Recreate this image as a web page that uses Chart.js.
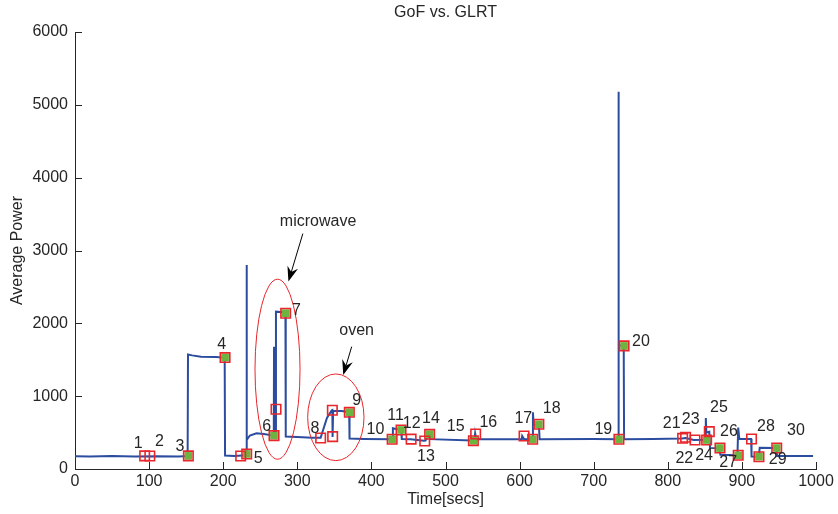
<!DOCTYPE html>
<html lang="en">
<head>
<meta charset="UTF-8">
<title>GoF vs. GLRT</title>
<script src="https://cdn.jsdelivr.net/npm/chart.js"></script>
<style>
    html, body {
        margin: 0;
        padding: 0;
        background: #fff;
    }
    #wrap {
        width: 838px;
        height: 514px;
    }
</style>
</head>
<body>
<div id="wrap"><canvas id="powerChart" width="838" height="514"></canvas></div>
<script>
// power trace (secs, average power)
const traceTime  = [0, 20, 50, 80, 110, 140, 152, 152.5, 158, 170, 190, 202, 202.5, 215, 231, 231.5, 232, 236, 245, 255, 268.3,
                    268.6, 268.9, 270.8, 271.2, 284, 284.4, 300, 320, 331.5, 340, 346.5, 347.3, 347.6, 348.4, 360, 370, 370.5,
                    390, 428, 429, 440, 441, 453, 471, 473, 478, 479.5, 536, 539, 540, 541.5, 603, 603.5, 606, 617, 618, 619, 626, 627,
                    700, 733, 733.3, 734, 740.5, 741, 780, 819, 824, 835, 851, 851.3, 852, 856, 857, 869, 871, 894, 895, 896.5,
                    912.5, 913, 923, 924, 946.5, 947.5, 996];
const tracePower = [175, 170, 178, 172, 176, 172, 178, 1572, 1560, 1540, 1538, 1530, 185, 180, 190, 2800, 400, 460, 490, 480, 458,
                    1680, 470, 470, 2160, 2150, 445, 438, 430, 428, 700, 806, 810, 440, 800, 795, 780, 418,
                    412, 408, 560, 536, 412, 410, 388, 390, 478, 410, 392, 392, 490, 410, 410, 452, 410, 408, 780, 600, 614, 410,
                    412, 410, 5180, 1700, 1690, 410, 412, 420, 425, 398, 400, 700, 500, 510, 290, 285, 195, 188, 570, 412,
                    412, 170, 169, 293, 290, 178, 178];

// GoF detections (red squares)
const gofTime  = [94, 101, 153, 202.5, 223.6, 231.7, 268.6, 271.3, 284.3, 331.5, 347.3, 347.7, 370.2, 428, 440, 453.6, 472, 478.6,
                  537.6, 540.7, 606, 617.6, 626, 734, 741, 820, 824, 836.7, 852.4, 856, 870.4, 895, 913, 923, 947];
const gofPower = [180, 178, 180, 1530, 178, 206, 458, 820, 2139, 425, 806, 444, 778, 408, 536, 410, 385, 476,
                  389, 480, 453, 408, 614, 408, 1690, 421, 435, 398, 398, 513, 288, 188, 412, 169, 288];

// GLRT detections (green)
const glrtTime  = [153, 202.5, 231.7, 268.6, 284.3, 370.2, 428, 440, 478.6, 537.6, 617.6, 626, 734, 741, 852.4, 870.4, 895, 923, 947];
const glrtPower = [180, 1530, 206, 458, 2139, 778, 408, 536, 476, 389, 408, 614, 408, 1690, 398, 288, 188, 169, 288];

// event numbers and where they are printed
const eventIds   = ['1', '2', '3', '4', '5', '6', '7', '8', '9', '10', '11', '12', '13', '14', '15',
                    '16', '17', '18', '19', '20', '21', '22', '23', '24', '25', '26', '27', '28', '29', '30'];
const eventTime  = [85.4, 113.8, 141.7, 198, 247.4, 258.7, 299, 323.8, 380.2, 405.4, 432.5, 454.4, 473.6, 480.4, 513.7,
                    557.8, 605, 643.3, 713, 763.8, 805.3, 822.3, 831, 848.9, 869, 882.6, 881.6, 932.5, 948.4, 973];
const eventPower = [353, 375, 307, 1703, 147, 580, 2170, 559, 934, 536, 728, 627, 169, 697, 580,
                    635, 697, 834, 543, 1751, 627, 147, 682, 179, 848, 512, 86, 580, 124, 525];

const xTicks = [0, 100, 200, 300, 400, 500, 600, 700, 800, 900, 1000];
const yTicks = [0, 1000, 2000, 3000, 4000, 5000, 6000];

const FONT = 'Liberation Sans, Arial, Helvetica, sans-serif';
const INK = '#262626';
const RED = '#e8262b';

const toPoints = (xs, ys) => xs.map((v, i) => ({ x: v, y: ys[i] }));

// the two circled appliances, with their callout arrows (data units)
const callouts = [
    { text: 'microwave', tx: 328, ty: 3398, from: [307.5, 3232], to: [288, 2573], cx: 273.3, cy: 1370, rx: 30.4, ry: 1236 },
    { text: 'oven', tx: 380, ty: 1896, from: [373.4, 1680], to: [362, 1291], cx: 352, cy: 710, rx: 38, ry: 595 }
];

function arrow(ctx, x1, y1, x2, y2) {
    const ang = Math.atan2(y2 - y1, x2 - x1);
    const len = 15, half = 5.5, back = 10;
    ctx.beginPath();
    ctx.moveTo(x1, y1);
    ctx.lineTo(x2 - Math.cos(ang) * back, y2 - Math.sin(ang) * back);
    ctx.stroke();
    ctx.beginPath();
    ctx.moveTo(x2, y2);
    ctx.lineTo(x2 - Math.cos(ang) * len - Math.sin(ang) * half, y2 - Math.sin(ang) * len + Math.cos(ang) * half);
    ctx.lineTo(x2 - Math.cos(ang) * back, y2 - Math.sin(ang) * back);
    ctx.lineTo(x2 - Math.cos(ang) * len + Math.sin(ang) * half, y2 - Math.sin(ang) * len - Math.cos(ang) * half);
    ctx.closePath();
    ctx.fill();
}

const overlay = {
    id: 'overlay',
    afterDatasetsDraw(chart) {
        const { ctx, chartArea, scales: { x, y } } = chart;
        ctx.save();

        // matlab style ticks, pointing into the plot
        ctx.strokeStyle = INK;
        ctx.lineWidth = 1;
        x.ticks.forEach(t => {
            const px = Math.round(x.getPixelForValue(t.value)) + 0.5;
            ctx.beginPath();
            ctx.moveTo(px, chartArea.bottom);
            ctx.lineTo(px, chartArea.bottom - 7);
            ctx.stroke();
        });
        y.ticks.forEach(t => {
            const py = Math.round(y.getPixelForValue(t.value)) + 0.5;
            ctx.beginPath();
            ctx.moveTo(chartArea.left, py);
            ctx.lineTo(chartArea.left + 7, py);
            ctx.stroke();
        });

        // ellipses and arrows
        callouts.forEach(c => {
            const cx = x.getPixelForValue(c.cx), cy = y.getPixelForValue(c.cy);
            const rx = x.getPixelForValue(c.cx + c.rx) - cx;
            const ry = cy - y.getPixelForValue(c.cy + c.ry);
            ctx.strokeStyle = RED;
            ctx.lineWidth = 1;
            ctx.beginPath();
            ctx.ellipse(cx, cy, rx, ry, 0, 0, Math.PI * 2);
            ctx.stroke();

            ctx.strokeStyle = '#000';
            ctx.fillStyle = '#000';
            arrow(ctx, x.getPixelForValue(c.from[0]), y.getPixelForValue(c.from[1]),
                       x.getPixelForValue(c.to[0]), y.getPixelForValue(c.to[1]));

            ctx.fillStyle = INK;
            ctx.font = '16px ' + FONT;
            ctx.textAlign = 'center';
            ctx.textBaseline = 'middle';
            ctx.fillText(c.text, x.getPixelForValue(c.tx), y.getPixelForValue(c.ty));
        });

        // event numbers
        ctx.fillStyle = INK;
        ctx.font = '16px ' + FONT;
        ctx.textAlign = 'center';
        ctx.textBaseline = 'middle';
        eventIds.forEach((id, i) => {
            ctx.fillText(id, x.getPixelForValue(eventTime[i]), y.getPixelForValue(eventPower[i]));
        });
        ctx.restore();
    }
};

new Chart(document.getElementById('powerChart'), {
    type: 'scatter',
    data: {
        datasets: [
            {
                label: 'GoF',
                data: toPoints(gofTime, gofPower),
                pointStyle: 'rect',
                pointRadius: 6.7,
                pointBorderWidth: 1.6,
                pointBorderColor: RED,
                pointBackgroundColor: 'rgba(0,0,0,0)'
            },
            {
                label: 'GLRT',
                data: toPoints(glrtTime, glrtPower),
                pointStyle: 'rect',
                pointRadius: 5.4,
                pointBorderWidth: 0,
                pointBackgroundColor: '#6cb33f'
            },
            {
                label: 'Average power',
                data: toPoints(traceTime, tracePower),
                showLine: true,
                borderColor: '#2b4c9f',
                borderWidth: 2,
                pointRadius: 0,
                tension: 0
            }
        ]
    },
    options: {
        responsive: false,
        animation: false,
        layout: { padding: { left: 0, right: 22, top: 0, bottom: 0 } },
        plugins: {
            legend: { display: false },
            tooltip: { enabled: false },
            title: {
                display: true,
                text: 'GoF vs. GLRT',
                fullSize: false,
                color: INK,
                font: { family: FONT, size: 16, weight: 'normal' },
                padding: { top: 3, bottom: 9.8 }
            }
        },
        scales: {
            x: {
                type: 'linear',
                min: 0,
                max: 1000,
                afterBuildTicks: s => { s.ticks = xTicks.map(v => ({ value: v })); },
                afterFit: s => { s.height = 45; },
                grid: { display: false, drawTicks: false },
                border: { display: true, color: INK, width: 1 },
                ticks: { padding: 3, color: INK, font: { family: FONT, size: 16 }, maxRotation: 0, autoSkip: false,
                         callback: v => String(v) },
                title: { display: true, text: 'Time[secs]', color: INK, font: { family: FONT, size: 16 }, padding: { top: 0, bottom: 5 } }
            },
            y: {
                type: 'linear',
                min: 0,
                max: 6000,
                afterBuildTicks: s => { s.ticks = yTicks.map(v => ({ value: v })); },
                afterFit: s => { s.width = 75; },
                grid: { display: false, drawTicks: false },
                border: { display: true, color: INK, width: 1 },
                ticks: { padding: 7, color: INK, font: { family: FONT, size: 16 }, autoSkip: false,
                         callback: v => String(v) },
                title: { display: true, text: 'Average Power', color: INK, font: { family: FONT, size: 16 }, padding: { top: 8, bottom: 0 } }
            }
        }
    },
    plugins: [overlay]
});
</script>
</body>
</html>
